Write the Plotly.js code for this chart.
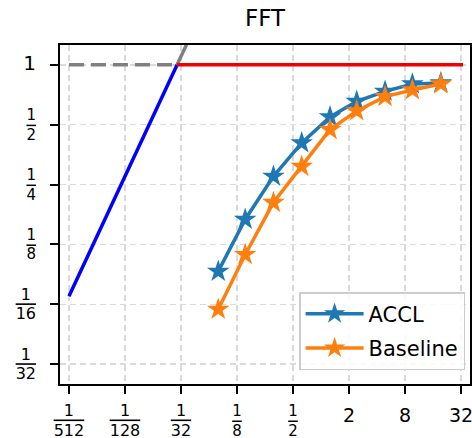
<!DOCTYPE html>
<html>
<head>
<meta charset="utf-8">
<script src="https://cdn.plot.ly/plotly-3.0.1.min.js"></script>
<style>html,body{margin:0;padding:0;background:#fff;}#chart{width:472px;height:438px;}</style>
</head>
<body>
<div id="chart"></div>
<script>
// ---- data ----
const acclX = [0.0786, 0.153, 0.308, 0.62, 1.25, 2.42, 4.88, 9.6, 19.4];
const acclY = [0.0915, 0.167, 0.275, 0.405, 0.547, 0.655, 0.735, 0.80, 0.81];
const baseX = [0.0786, 0.153, 0.308, 0.62, 1.25, 2.42, 4.88, 9.6, 19.4];
const baseY = [0.059, 0.111, 0.203, 0.308, 0.472, 0.586, 0.692, 0.747, 0.80];

// roofline
const memX = [1/512, 0.0284];
const memY = [0.0686, 1];
const ceilX = [0.0284, 33.6];
const ceilY = [1, 1];
const ghostDashX = [1/512, 0.0284];
const ghostDashY = [1, 1];
const ghostDiagX = [0.0284, 0.045];
const ghostDiagY = [1, 1.585];

const xTickVals = [1/512, 1/128, 1/32, 1/8, 1/2, 2, 8, 32];
const xTickLabels = ['1/512', '1/128', '1/32', '1/8', '1/2', '2', '8', '32'];
const yTickVals = [1/32, 1/16, 1/8, 1/4, 1/2, 1];
const yTickLabels = ['1/32', '1/16', '1/8', '1/4', '1/2', '1'];

const FONT = 'DejaVu Sans, sans-serif';

function fmt(label, isY) {
  if (label.indexOf('/') < 0) {
    if (isY) return '<span style="font-size:20px">' + label + '</span>';
    return '<span style="font-size:19px;baseline-shift:-6px">' + label + '</span>';
  }
  const parts = label.split('/');
  const num = parts[0], den = parts[1];
  const size = den.length > 1 ? 16 : 15;
  let pad = '';
  if (isY) { for (let i = 1; i < den.length; i++) pad += '&#160;'; }
  return '<span style="font-size:' + size + 'px">' + num + pad + '</span><br>' +
         '<span style="font-size:' + size + 'px;text-decoration:overline">' + den + '</span>';
}

const lg2 = v => Math.log10(Math.pow(2, v));

const traces = [
  {x: ghostDashX, y: ghostDashY, mode: 'lines', line: {color: 'gray', width: 3.5, dash: '15px,7px'}, showlegend: false, hoverinfo: 'skip'},
  {x: ghostDiagX, y: ghostDiagY, mode: 'lines', line: {color: 'gray', width: 3.5}, showlegend: false, hoverinfo: 'skip'},
  {x: memX, y: memY, mode: 'lines', line: {color: '#0000ff', width: 3.5}, showlegend: false},
  {x: ceilX, y: ceilY, mode: 'lines', line: {color: '#ee0000', width: 3.5}, showlegend: false},
  {x: acclX, y: acclY, name: 'ACCL', mode: 'lines+markers', legendgroup: 'a',
   line: {color: '#1f77b4', width: 3.5}, marker: {symbol: 'star', size: 17, color: '#1f77b4'}},
  {x: baseX, y: baseY, name: 'Baseline', mode: 'lines+markers', legendgroup: 'b',
   line: {color: '#ff7f0e', width: 3.5}, marker: {symbol: 'star', size: 17, color: '#ff7f0e'}}
];

const axisCommon = {
  type: 'log',
  showline: true, linecolor: '#000', linewidth: 2, mirror: true,
  ticks: 'outside', ticklen: 8, tickwidth: 2, tickcolor: '#000',
  showgrid: true, gridcolor: '#dadada', gridwidth: 1.5, griddash: '6px,4px',
  zeroline: false, ticklabeloverflow: 'allow',
  tickfont: {family: FONT, size: 15, color: '#000'}
};

const layout = {
  width: 472, height: 438,
  margin: {l: 60, r: 2, t: 45, b: 54},
  paper_bgcolor: '#fff', plot_bgcolor: '#fff',
  title: {text: 'FFT', font: {family: FONT, size: 23, color: '#000'},
          x: 0.5, xref: 'paper', y: 1 - 18/438, yref: 'container', yanchor: 'middle'},
  xaxis: Object.assign({}, axisCommon, {
    range: [lg2(-9.32), lg2(5.32)],
    tickmode: 'array', tickvals: xTickVals, ticktext: xTickLabels.map(l => fmt(l, false)),
    ticklabelstandoff: 4
  }),
  yaxis: Object.assign({}, axisCommon, {
    range: [lg2(-5.33), lg2(0.33)],
    tickmode: 'array', tickvals: yTickVals, ticktext: yTickLabels.map(l => fmt(l, true)),
    ticklabelstandoff: 11
  }),
  legend: {
    x: 0.988, y: 0.041, xanchor: 'right', yanchor: 'bottom',
    bgcolor: 'rgba(255,255,255,0.85)', bordercolor: '#cccccc', borderwidth: 1.5,
    font: {family: FONT, size: 21, color: '#000'}, itemwidth: 58, tracegroupgap: 4
  },
  showlegend: true
};

Plotly.newPlot('chart', traces, layout, {displayModeBar: false, staticPlot: true});
</script>
</body>
</html>
